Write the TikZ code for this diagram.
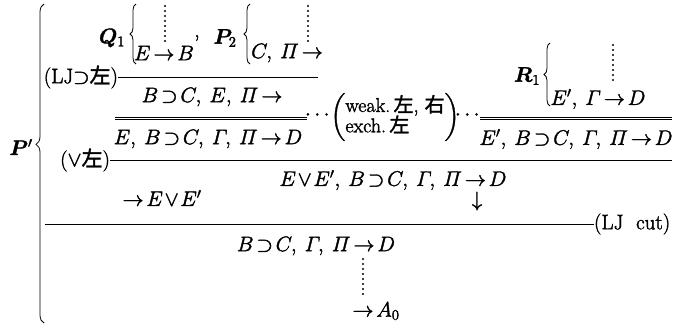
\RequirePackage{fix-cm}
\documentclass[tikz,border=0pt]{standalone}
\usepackage{amsmath,amssymb}
\usepackage{bm}
\usepackage{fontspec}
\newfontfamily\cjk{Noto Sans CJK JP}
\usetikzlibrary{decorations.pathreplacing}
\everymath{\thickmuskip=2.5mu\relax\medmuskip=1.5mu\relax}
\newcommand\cmsp{,\mskip4mu\relax}
\newcommand\heavytext{\special{pdf:literal direct 2 Tr 0.35 w}}
\newcommand\plaintext{\special{pdf:literal direct 0 Tr}}
\begin{document}
\begin{tikzpicture}[x=1pt,y=-1pt,
  every node/.style={font=\fontsize{21}{22}\selectfont, inner sep=0pt, outer sep=0pt, execute at begin node=\heavytext, execute at end node=\plaintext},
  biglabel/.style={font=\fontsize{21}{23}\selectfont},
  rule/.style={line width=0.8pt},
  vdots/.style={line width=2.2pt, line cap=round, dash pattern=on 0pt off 5pt},
  lbrace/.style={decorate, decoration={brace, amplitude=6pt}, line width=0.8pt}
]
\useasboundingbox (0,0) rectangle (675,325);

% big brace and P'
\node (Pp) at (21,147) {$\bm{P}'$};
\coordinate (bigB) at (44,323);
\coordinate (bigT) at (44,4);
\draw[decorate, decoration={brace, amplitude=8pt, aspect=0.56}, line width=0.8pt] (bigB) -- (bigT);

% Q1 block
\node (Q1) at (112,38) {$\bm{Q}_1$};
\coordinate (q1b) at (136,64);
\coordinate (q1t) at (136,4);
\draw[lbrace] (q1b) -- (q1t);
\node (EB) at (164,53) {$E\to B$};
\coordinate (q1d) at (165,6);
\draw[vdots] (q1d) -- (q1d |- 0,42);
\node (cm) at (197,38) {,};

% P2 block
\node (P2) at (225,38) {$\bm{P}_2$};
\coordinate (p2b) at (250,64);
\coordinate (p2t) at (250,4);
\draw[lbrace] (p2b) -- (p2t);
\node (CP) at (287,53) {$C\cmsp \varPi\to$};
\coordinate (p2d) at (308,6);
\draw[vdots] (p2d) -- (p2d |- 0,42);

% first inference (LJ > left)
\coordinate (l1a) at (118,77);
\coordinate (l1b) at (318,77);
\draw[rule] (l1a) -- (l1b);
\node[anchor=east, biglabel] (lab1) at (l1a) {(LJ$\supset${\cjk 左})};
\node (c1) at (212,97) {$B\supset C\cmsp E\cmsp \varPi\to$};

% double line left
\coordinate (d1a) at (115,118);
\coordinate (d1b) at (307,118);
\draw[line width=0.7pt] ([yshift=1.1pt]d1a) -- ([yshift=1.1pt]d1b);
\draw[line width=0.7pt] ([yshift=-1.1pt]d1a) -- ([yshift=-1.1pt]d1b);
\node (dl) at (319,115) {$\cdots$};
\node[font=\fontsize{20}{22}\selectfont] (wx) at (395,117) {$\left(\begin{array}{@{}l@{}}\text{weak.\,{\cjk 左}, {\cjk 右}}\\[-3pt] \text{exch.\,{\cjk 左}}\end{array}\right)$};
\node (dr) at (469,115) {$\cdots$};
\coordinate (d2a) at (480,118);
\coordinate (d2b) at (672,118);
\draw[line width=0.7pt] ([yshift=1.1pt]d2a) -- ([yshift=1.1pt]d2b);
\draw[line width=0.7pt] ([yshift=-1.1pt]d2a) -- ([yshift=-1.1pt]d2b);

% R1 block
\node (R1) at (527,76) {$\bm{R}_1$};
\coordinate (r1b) at (550,106);
\coordinate (r1t) at (550,43);
\draw[lbrace] (r1b) -- (r1t);
\node (EGD) at (598,99) {$E'\cmsp \varGamma\to D$};
\coordinate (r1d) at (613,45);
\draw[vdots] (r1d) -- (r1d |- 0,82);

% conclusions of double lines
\node (c2) at (208,139) {$E\cmsp B\supset C\cmsp \varGamma\cmsp \varPi\to D$};
\node (c3) at (576,139) {$E'\cmsp B\supset C\cmsp \varGamma\cmsp \varPi\to D$};

% (or left)
\coordinate (l2a) at (110,160);
\coordinate (l2b) at (672,160);
\draw[rule] (l2a) -- (l2b);
\node[anchor=east, biglabel] (lab2) at (l2a) {($\vee${\cjk 左})};
\node (c4) at (393,180) {$E\vee E'\cmsp B\supset C\cmsp \varGamma\cmsp \varPi\to D$};
\node (c5) at (162,198) {$\to E\vee E'$};
\node (dn) at (477,201) {$\downarrow$};

% LJ cut
\coordinate (l3a) at (45,224);
\coordinate (l3b) at (594,224);
\draw[rule] (l3a) -- (l3b);
\node[anchor=west, biglabel] (lab3) at (l3b) {(LJ\ \ cut)};
\node (c6) at (316,246) {$B\supset C\cmsp \varGamma\cmsp \varPi\to D$};
\coordinate (c6d) at (363,259);
\draw[vdots] (c6d) -- (c6d |- 0,297);
\node (A0) at (376,311) {$\to A_0$};
\end{tikzpicture}
\end{document}
